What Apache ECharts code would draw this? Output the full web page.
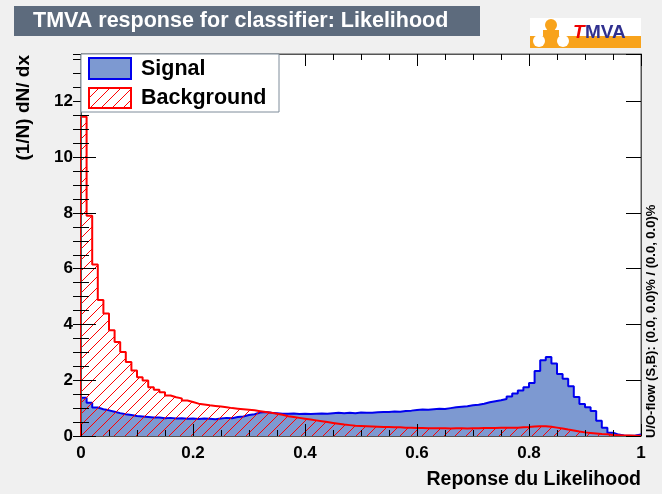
<!DOCTYPE html>
<html>
<head>
<meta charset="utf-8">
<script src="https://cdn.jsdelivr.net/npm/echarts@6/dist/echarts.min.js"></script>
<style>
html, body { margin: 0; padding: 0; background: #f0f0f0; }
#chart { width: 662px; height: 494px; }
</style>
</head>
<body>
<div id="chart"></div>
<script>
// histogram: 100 bins on [0, 1]
const xMin = 0
const xMax = 1
const yMax = 13.7
const binWidth = 0.01

const signal = [
  1.37, 1.19, 1.02, 0.96, 0.92, 0.87, 0.82, 0.78, 0.75, 0.72,
  0.70, 0.68, 0.66, 0.66, 0.64, 0.65, 0.63, 0.64, 0.62, 0.63,
  0.61, 0.63, 0.62, 0.60, 0.63, 0.65, 0.64, 0.68, 0.70, 0.75,
  0.78, 0.84, 0.86, 0.83, 0.82, 0.80, 0.80, 0.81, 0.79, 0.80,
  0.79, 0.80, 0.81, 0.80, 0.82, 0.83, 0.82, 0.83, 0.82, 0.84,
  0.83, 0.83, 0.85, 0.86, 0.86, 0.88, 0.87, 0.90, 0.91, 0.93,
  0.95, 0.94, 0.96, 0.98, 0.97, 1.00, 1.03, 1.05, 1.07, 1.10,
  1.12, 1.16, 1.21, 1.25, 1.28, 1.33, 1.42, 1.52, 1.63, 1.75,
  1.90, 2.33, 2.72, 2.83, 2.60, 2.22, 2.05, 1.78, 1.40, 1.15,
  1.03, 0.90, 0.55, 0.30, 0.12, 0.05, 0.02, 0.01, 0.02, 0.05
]

const background = [
  11.45, 7.90, 6.15, 4.88, 4.39, 3.79, 3.37, 3.01, 2.65, 2.35,
  2.11, 1.99, 1.75, 1.66, 1.57, 1.45, 1.39, 1.35, 1.27, 1.22,
  1.16, 1.13, 1.10, 1.08, 1.06, 1.03, 1.00, 0.98, 0.96, 0.94,
  0.92, 0.89, 0.86, 0.83, 0.80, 0.76, 0.71, 0.68, 0.65, 0.62,
  0.59, 0.56, 0.53, 0.50, 0.47, 0.44, 0.41, 0.39, 0.37, 0.36,
  0.35, 0.34, 0.33, 0.32, 0.32, 0.31, 0.31, 0.30, 0.30, 0.29,
  0.29, 0.28, 0.28, 0.28, 0.28, 0.27, 0.28, 0.28, 0.27, 0.28,
  0.28, 0.29, 0.29, 0.29, 0.30, 0.30, 0.30, 0.30, 0.31, 0.32,
  0.34, 0.35, 0.35, 0.33, 0.30, 0.27, 0.23, 0.20, 0.16, 0.13,
  0.11, 0.09, 0.07, 0.06, 0.04, 0.03, 0.02, 0.02, 0.01, 0.01
]

const titleText = 'TMVA response for classifier: Likelihood'
const xTitle = 'Reponse du Likelihood'
const yTitle = '(1/N) dN/ dx'
const flowText = 'U/O-flow (S,B): (0.0, 0.0)% / (0.0, 0.0)%'
const legendNames = ['Signal', 'Background']

const font = '"Liberation Sans", Arial, Helvetica, sans-serif'

// step outline points: closed down to zero at both ends
function histPoints(vals) {
  const pts = [[xMin, 0]]
  vals.forEach((v, i) => pts.push([xMin + i * binWidth, v]))
  pts.push([xMax, vals[vals.length - 1]])
  pts.push([xMax, 0])
  return pts
}

function hatch(color, size) {
  const c = document.createElement('canvas')
  c.width = size
  c.height = size
  const g = c.getContext('2d')
  g.strokeStyle = color
  g.lineWidth = 1
  g.beginPath()
  g.moveTo(0, size); g.lineTo(size, 0)
  g.moveTo(-size / 2, size / 2); g.lineTo(size / 2, -size / 2)
  g.moveTo(size / 2, size * 1.5); g.lineTo(size * 1.5, size / 2)
  g.stroke()
  return c
}
const hatchFill = { image: hatch('#ff0000', 11), repeat: 'repeat' }

const tickLabel = { color: '#000', fontSize: 17, fontWeight: 'bold', fontFamily: font }

const xBase = { type: 'value', min: xMin, max: xMax, interval: 0.2, z: 5, splitLine: { show: false } }
const yBase = { type: 'value', min: 0, max: yMax, z: 5, splitLine: { show: false } }

const chart = echarts.init(document.getElementById('chart'))
const option = {
  animation: false,
  backgroundColor: '#f0f0f0',
  grid: {
    left: 81, right: 21, top: 54, bottom: 58,
    show: true, backgroundColor: '#ffffff', borderColor: '#555', borderWidth: 1
  },
  xAxis: [
    {
      ...xBase, position: 'bottom',
      axisLine: { show: true, onZero: false, lineStyle: { color: '#555', width: 1 } },
      axisTick: { inside: true, length: 12, lineStyle: { color: '#000' } },
      minorTick: { show: true, splitNumber: 4, length: 6, lineStyle: { color: '#000' } },
      axisLabel: { ...tickLabel, margin: 9 }
    },
    {
      ...xBase, position: 'top',
      axisLine: { show: true, onZero: false, lineStyle: { color: '#555', width: 1 } },
      axisTick: { inside: true, length: 12, lineStyle: { color: '#000' } },
      minorTick: { show: true, splitNumber: 4, length: 6, lineStyle: { color: '#000' } },
      axisLabel: { show: false }
    }
  ],
  yAxis: [
    {
      ...yBase, position: 'left', interval: 2,
      axisLine: { show: true, onZero: false, lineStyle: { color: '#555', width: 1 } },
      axisTick: { inside: true, length: 15, lineStyle: { color: '#000' } },
      axisLabel: { ...tickLabel, margin: 8, showMaxLabel: false }
    },
    {
      ...yBase, position: 'left', interval: 0.5,
      axisLine: { show: false },
      axisTick: { inside: true, length: 8, lineStyle: { color: '#000' } },
      axisLabel: { show: false }
    },
    {
      ...yBase, position: 'right', interval: 2,
      axisLine: { show: true, onZero: false, lineStyle: { color: '#555', width: 1 } },
      axisTick: { inside: true, length: 15, lineStyle: { color: '#000' } },
      axisLabel: { show: false }
    },
    {
      ...yBase, position: 'right', interval: 0.5,
      axisLine: { show: false },
      axisTick: { inside: true, length: 8, lineStyle: { color: '#000' } },
      axisLabel: { show: false }
    }
  ],
  series: [
    {
      name: legendNames[0],
      type: 'line',
      step: 'end',
      showSymbol: false,
      xAxisIndex: 0,
      yAxisIndex: 0,
      data: histPoints(signal),
      lineStyle: { color: '#0000ee', width: 2 },
      areaStyle: { color: '#7d99d1', opacity: 1 },
      z: 2
    },
    {
      name: legendNames[1],
      type: 'line',
      step: 'end',
      showSymbol: false,
      xAxisIndex: 0,
      yAxisIndex: 0,
      data: histPoints(background),
      lineStyle: { color: '#ff0000', width: 2 },
      areaStyle: { color: hatchFill, opacity: 1 },
      z: 3
    }
  ],
  graphic: [
    // title box
    { type: 'rect', shape: { x: 14, y: 6, width: 466, height: 30 }, style: { fill: '#5d6b7d' }, z: 10 },
    { type: 'text', x: 33, y: 21, style: { text: titleText, fill: '#fff', font: 'bold 21.5px ' + font, textVerticalAlign: 'middle' }, z: 11 },
    // TMVA logo
    { type: 'rect', shape: { x: 530, y: 18, width: 111, height: 30 }, style: { fill: '#fff' }, z: 10 },
    { type: 'rect', shape: { x: 530, y: 36, width: 111, height: 12 }, style: { fill: '#f8a31c' }, z: 11 },
    { type: 'circle', shape: { cx: 551, cy: 25, r: 6 }, style: { fill: '#f8a31c' }, z: 11 },
    { type: 'rect', shape: { x: 543, y: 30, width: 16, height: 8 }, style: { fill: '#f8a31c' }, z: 11 },
    { type: 'circle', shape: { cx: 539, cy: 41, r: 6 }, style: { fill: '#fff' }, z: 12 },
    { type: 'circle', shape: { cx: 563, cy: 41, r: 6 }, style: { fill: '#fff' }, z: 12 },
    { type: 'text', x: 573, y: 33, style: { text: 'T', fill: '#ee0000', font: 'italic bold 19px ' + font, textVerticalAlign: 'middle' }, z: 12 },
    { type: 'text', x: 585, y: 33, style: { text: 'MVA', fill: '#30308f', font: 'bold 19px ' + font, textVerticalAlign: 'middle' }, z: 12 },
    // legend
    { type: 'rect', shape: { x: 81, y: 54, width: 198, height: 58 }, style: { fill: '#fff', stroke: '#7f8c9a', lineWidth: 1 }, z: 10 },
    { type: 'rect', shape: { x: 89, y: 58, width: 42, height: 21 }, style: { fill: '#7d99d1', stroke: '#0000ee', lineWidth: 2 }, z: 11 },
    { type: 'rect', shape: { x: 89, y: 88, width: 42, height: 20 }, style: { fill: hatchFill, stroke: '#ff0000', lineWidth: 2 }, z: 11 },
    { type: 'text', x: 141, y: 69, style: { text: legendNames[0], fill: '#000', font: 'bold 21.5px ' + font, textVerticalAlign: 'middle' }, z: 11 },
    { type: 'text', x: 141, y: 98, style: { text: legendNames[1], fill: '#000', font: 'bold 21.5px ' + font, textVerticalAlign: 'middle' }, z: 11 },
    // axis titles
    { type: 'text', x: 24, y: 55, rotation: Math.PI / 2, style: { text: yTitle, fill: '#000', font: 'bold 19px ' + font, textAlign: 'right', textVerticalAlign: 'middle' }, z: 10 },
    { type: 'text', x: 641, y: 480, style: { text: xTitle, fill: '#000', font: 'bold 19.5px ' + font, textAlign: 'right', textVerticalAlign: 'middle' }, z: 10 },
    { type: 'text', x: 651, y: 438, rotation: Math.PI / 2, style: { text: flowText, fill: '#000', font: 'bold 13px ' + font, textAlign: 'left', textVerticalAlign: 'middle' }, z: 10 }
  ]
}
chart.setOption(option)
</script>
</body>
</html>
